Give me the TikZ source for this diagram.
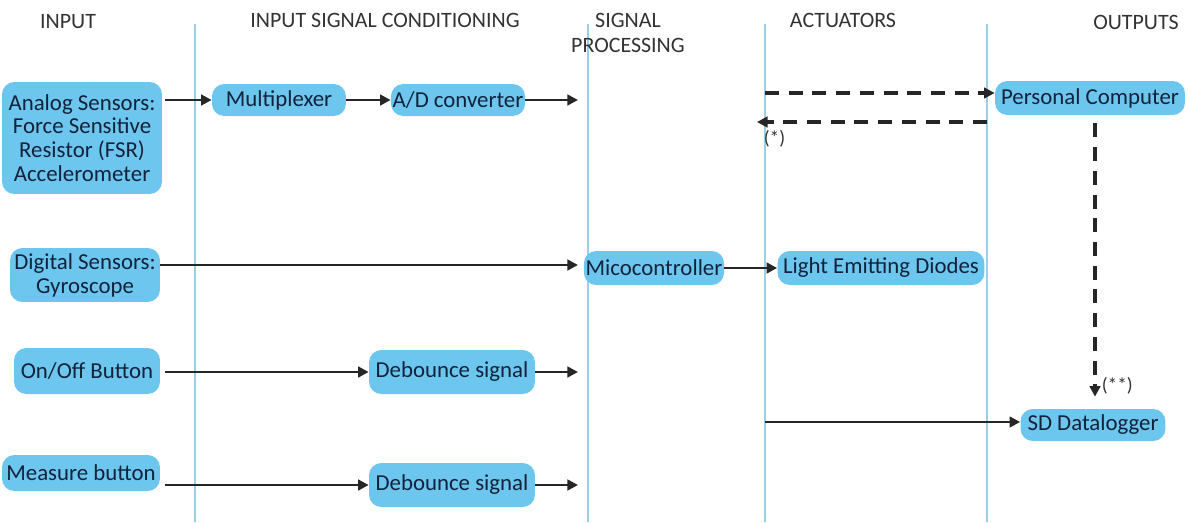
\documentclass[tikz,border=0pt]{standalone}
\usepackage{fontspec}
\setmainfont{Carlito}
\usepackage{tikz}
\usetikzlibrary{arrows.meta,positioning,calc}
\definecolor{blockblue}{HTML}{6CC6EE}
\definecolor{lanecol}{HTML}{9ACFE6}
\definecolor{textnavy}{HTML}{13223A}
\tikzset{
  block/.style={rectangle,rounded corners=7pt,fill=blockblue,draw=none,
    text=textnavy,font=\fontsize{13}{13.6}\selectfont,align=center,
    inner xsep=1pt,inner ysep=3pt},
  lane/.style={draw=lanecol,line width=0.8pt},
  head/.style={font=\fontsize{12.5}{14}\selectfont,text=black!80,align=center},
  flow/.style={-{Triangle[length=6pt,width=6pt]},line width=1.5pt,black!85},
  dflow/.style={flow,line width=1.8pt,dash pattern=on 8pt off 5.5pt},
  note/.style={font=\fontsize{11}{12}\selectfont,text=black!80,inner sep=1pt},
}
\begin{document}
\begin{tikzpicture}[x=0.02cm,y=-0.02cm]
  \useasboundingbox (0,0) rectangle (1188,522);
  % lanes
  \foreach \xl in {195,588,765,987}
    \draw[lane] (\xl,24) -- (\xl,522);
  % headings
  \node[head] (hin) at (68,22) {INPUT};
  \node[head] (hcond) at (385,20) {INPUT SIGNAL CONDITIONING};
  \node[head] (hproc) at (628,33) {SIGNAL\\PROCESSING};
  \node[head] (hact) at (843,20) {ACTUATORS};
  \node[head] (hout) at (1136,22) {OUTPUTS};
  % input column
  \node[block,minimum width=3.2cm,minimum height=2.24cm] (analog) at (82,138)
    {Analog Sensors:\\Force Sensitive\\Resistor (FSR)\\Accelerometer};
  \node[block,minimum width=3cm,minimum height=1cm] (digital) at (85,275)
    {Digital Sensors:\\Gyroscope};
  \node[block,minimum width=2.92cm,minimum height=0.92cm] (onoff) at (87,371) {On/Off Button};
  \node[block,minimum width=3.16cm,minimum height=0.72cm] (measure) at (81,473) {Measure button};
  % conditioning
  \node[block,minimum width=2.68cm,minimum height=0.64cm] (mux) at (279,100) {Multiplexer};
  \node[block,minimum width=2.66cm,minimum height=0.64cm] (adc) at (458,100) {A/D converter};
  \node[block,minimum width=3.32cm,minimum height=0.88cm] (deb1) at (452,372) {Debounce signal};
  \node[block,minimum width=3.32cm,minimum height=0.88cm] (deb2) at (452,485) {Debounce signal};
  % processing, actuators, outputs
  \node[block,minimum width=2.24cm,minimum height=0.68cm] (mcu) at (654,268) {Micocontroller};
  \node[block,minimum width=4.14cm,minimum height=0.68cm] (led) at (881,268) {Light Emitting Diodes};
  \node[block,minimum width=3.8cm,minimum height=0.68cm] (pc) at (1090,98) {Personal Computer};
  \node[block,minimum width=2.9cm,minimum height=0.64cm] (sd) at (1093,425) {SD Datalogger};
  % lane entry points
  \coordinate (p1) at (578,100);
  \coordinate (p2) at (578,265);
  \coordinate (p3) at (578,372);
  \coordinate (p4) at (578,485);
  \coordinate (a1) at (765,93);
  \coordinate (a2) at (757,122);
  \coordinate (a3) at (987,122);
  \coordinate (a4) at (765,422);
  % connectors
  \draw[flow] ($(analog.east |- mux)+(3,0)$) -- (mux);
  \draw[flow] (mux) -- (adc);
  \draw[flow] (adc) -- (p1);
  \draw[flow] (digital.east |- p2) -- (p2);
  \draw[flow] ($(onoff.east)+(5,1)$) -- (deb1.west);
  \draw[flow] (deb1) -- (p3);
  \draw[flow] ($(measure.east)+(5,12)$) -- (deb2.west);
  \draw[flow] (deb2) -- (p4);
  \draw[flow] (mcu) -- (led);
  \draw[dflow] (a1) -- (a1 -| pc.west);
  \draw[dflow] (a3) -- (a2) node[note,below right,xshift=2pt,yshift=-3pt] {(*)};
  \draw[dflow] ($(pc.south)+(5,8)$) -- ($(sd.north)+(2,-12)$)
    node[note,right,xshift=2pt,yshift=6pt] {(**)};
  \draw[flow] (a4) -- (sd.west |- a4);
\end{tikzpicture}
\end{document}
